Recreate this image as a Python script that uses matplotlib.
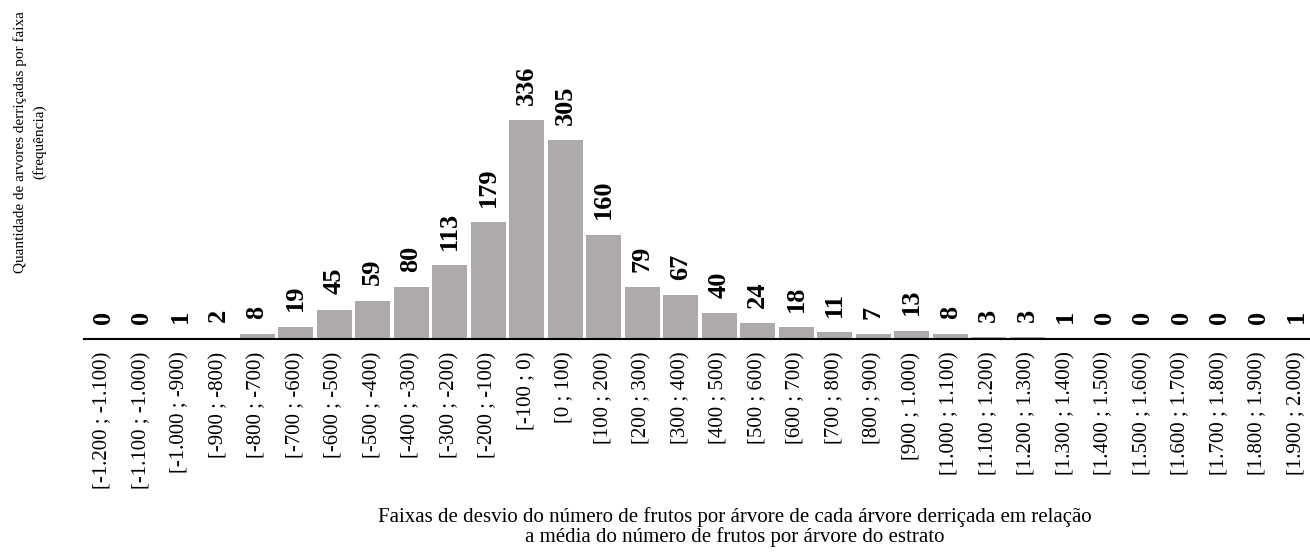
import matplotlib
matplotlib.use("Agg")
import matplotlib.pyplot as plt

plt.rcParams['font.family'] = ['Liberation Serif', 'DejaVu Serif']

categories = [
    "[-1.200 ; -1.100)", "[-1.100 ; -1.000)", "[-1.000 ; -900)", "[-900 ; -800)",
    "[-800 ; -700)", "[-700 ; -600)", "[-600 ; -500)", "[-500 ; -400)",
    "[-400 ; -300)", "[-300 ; -200)", "[-200 ; -100)", "[-100 ; 0)",
    "[0 ; 100)", "[100 ; 200)", "[200 ; 300)", "[300 ; 400)",
    "[400 ; 500)", "[500 ; 600)", "[600 ; 700)", "[700 ; 800)",
    "[800 ; 900)", "[900 ; 1.000)", "[1.000 ; 1.100)", "[1.100 ; 1.200)",
    "[1.200 ; 1.300)", "[1.300 ; 1.400)", "[1.400 ; 1.500)", "[1.500 ; 1.600)",
    "[1.600 ; 1.700)", "[1.700 ; 1.800)", "[1.800 ; 1.900)", "[1.900 ; 2.000)",
]
frequencies = [0, 0, 1, 2, 8, 19, 45, 59, 80, 113, 179, 336, 305, 160, 79, 67,
               40, 24, 18, 11, 7, 13, 8, 3, 3, 1, 0, 0, 0, 0, 0, 1]

xlabel = ("Faixas de desvio do número de frutos por árvore de cada árvore derriçada em relação\n"
          "a média do número de frutos por árvore do estrato")
ylabel = "Quantidade de arvores derriçadas por faixa\n(frequência)"

W, H = 1310, 553
fig = plt.figure(figsize=(W / 100, H / 100), dpi=100)
left_px, right_px = 83.75, 1316.0
base_px, top_px = 339.0, 100.0
ax = fig.add_axes([left_px / W, (H - base_px) / H, (right_px - left_px) / W, (base_px - top_px) / H])

x = list(range(len(categories)))
ax.bar(x, frequencies, width=0.91, color="#AEAAAA", zorder=2)
ax.set_xlim(-0.5, len(categories) - 0.5)
ax.set_ylim(0, (base_px - top_px) / 0.652)

for xi, v in zip(x, frequencies):
    ax.annotate(str(v), xy=(xi, v), xytext=(0, 11), textcoords="offset points",
                ha="center", va="bottom", rotation=90, fontsize=19,
                fontweight="bold", color="black")

ax.set_xticks(x)
ax.set_xticklabels(categories, rotation=90, fontsize=15, va="top", ha="center")
ax.tick_params(axis="x", length=0, pad=9)
ax.set_yticks([])
for s in ["top", "right", "left"]:
    ax.spines[s].set_visible(False)
ax.spines["bottom"].set_linewidth(1.5)
ax.spines["bottom"].set_color("black")
ax.spines["bottom"].set_zorder(3)

fig.text(735 / W, 1 - 527 / H, xlabel, ha="center", va="center", fontsize=15,
         linespacing=1.05)
fig.text(30 / W, 1 - 142 / H, ylabel, ha="center", va="center", fontsize=11,
         rotation=90, linespacing=1.5, multialignment="center")

fig.savefig("out.png", dpi=100)
